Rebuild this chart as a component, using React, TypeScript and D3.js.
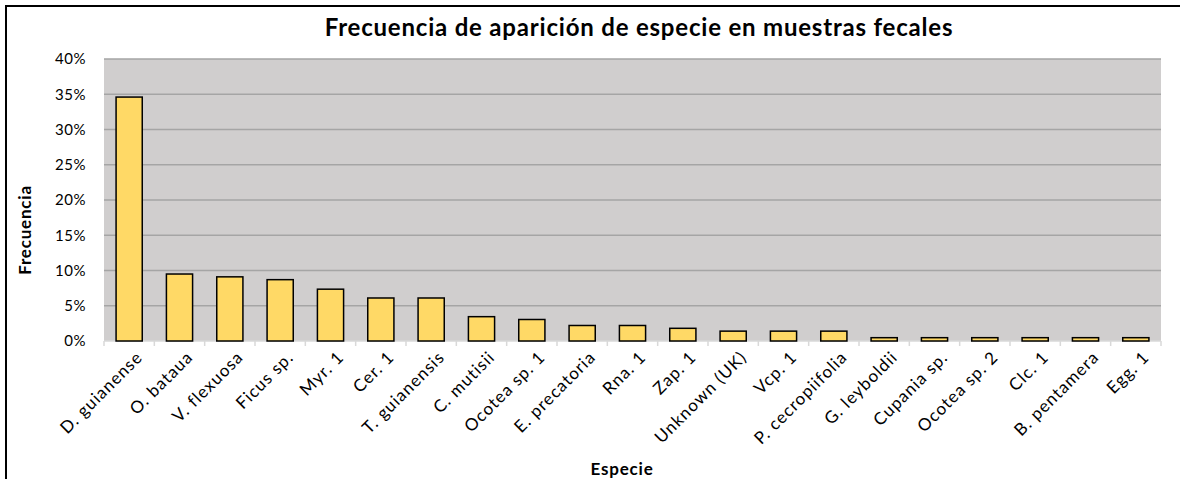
import * as d3 from "d3";

const width = 1180;
const height = 479;

const species = [
  "D. guianense",
  "O. bataua",
  "V. flexuosa",
  "Ficus sp.",
  "Myr. 1",
  "Cer. 1",
  "T. guianensis",
  "C. mutisii",
  "Ocotea sp. 1",
  "E. precatoria",
  "Rna. 1",
  "Zap. 1",
  "Unknown (UK)",
  "Vcp. 1",
  "P. cecropiifolia",
  "G. leyboldii",
  "Cupania sp.",
  "Ocotea sp. 2",
  "Clc. 1",
  "B. pentamera",
  "Egg. 1",
];

// frequency in percent
const frequency = [
  34.6, 9.5, 9.1, 8.7, 7.35, 6.1, 6.1, 3.45, 3.05, 2.2, 2.2, 1.8, 1.4, 1.4,
  1.4, 0.47, 0.47, 0.47, 0.47, 0.47, 0.47,
];

const yTicks = [0, 5, 10, 15, 20, 25, 30, 35, 40];

const font = "Lato, 'Open Sans', sans-serif";

// plot area
const left = 104;
const right = 1161;
const top = 59;
const bottom = 341;

const App = () => {
  const x = d3.scaleBand<string>().domain(species).range([left, right]).paddingInner(0.48).paddingOuter(0.24);
  const band = d3.scaleBand<string>().domain(species).range([left, right]);
  const y = d3.scaleLinear().domain([0, 40]).range([bottom, top]);

  return (
    <svg
      width={width}
      height={height}
      style={{ position: "absolute", left: 0, top: 0, background: "white", fontFamily: font }}
    >
      {/* chart border */}
      <rect x={6} y={6} width={width + 20} height={height + 20} fill="white" stroke="black" strokeWidth={2} />

      <text x={639} y={36} textAnchor="middle" fontSize={24} fontWeight="bold" letterSpacing={0.8} fill="#000">
        Frecuencia de aparición de especie en muestras fecales
      </text>

      {/* plot background */}
      <rect x={left} y={top} width={right - left} height={bottom - top} fill="#d0cece" />

      {yTicks.map((t) => (
        <g key={t}>
          {t > 0 && (
            <line x1={left} x2={right} y1={y(t)} y2={y(t)} stroke="#a5a5a5" strokeWidth={1.5} />
          )}
          <text x={86} y={y(t)} dy="0.35em" textAnchor="end" fontSize={15} letterSpacing={0.5} fill="#000">
            {t}%
          </text>
        </g>
      ))}

      {/* x axis line and ticks */}
      <line x1={left} x2={right} y1={bottom} y2={bottom} stroke="#d9d9d9" strokeWidth={1.5} />
      {[...species.map((s) => band(s) as number), right].map((bx, i) => (
        <line key={i} x1={bx} x2={bx} y1={bottom} y2={bottom + 5} stroke="#d9d9d9" strokeWidth={1.5} />
      ))}

      {species.map((s, i) => (
        <rect
          key={s}
          x={x(s)}
          y={y(frequency[i])}
          width={x.bandwidth()}
          height={bottom - y(frequency[i])}
          fill="#ffd966"
          stroke="#000"
          strokeWidth={1.5}
        />
      ))}

      {species.map((s) => {
        const cx = (band(s) as number) + band.bandwidth() / 2;
        return (
          <text
            key={s}
            transform={`translate(${cx + 6},${bottom + 9}) rotate(-45)`}
            textAnchor="end"
            dy="0.7em"
            fontSize={17}
            letterSpacing={1}
            fill="#000"
          >
            {s}
          </text>
        );
      })}

      <text x={622} y={475} textAnchor="middle" fontSize={17} fontWeight="bold" letterSpacing={0.8} fill="#000">
        Especie
      </text>
      <text
        transform={`translate(31,230) rotate(-90)`}
        textAnchor="middle"
        fontSize={17}
        fontWeight="bold"
        letterSpacing={0.8}
        fill="#000"
      >
        Frecuencia
      </text>
    </svg>
  );
};

export default App;
